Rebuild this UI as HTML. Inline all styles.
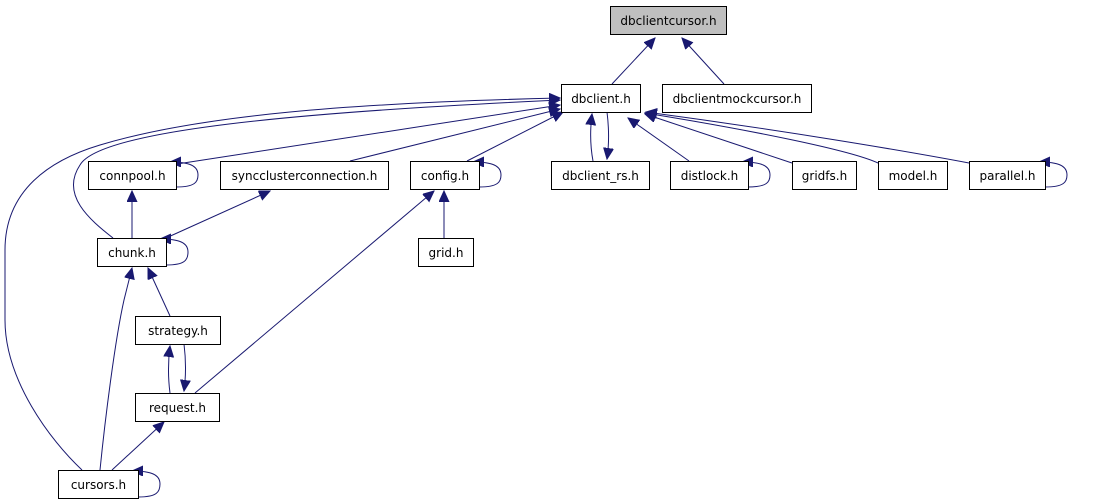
<!DOCTYPE html>
<html><head><meta charset="utf-8"><style>
html,body{margin:0;padding:0;background:#fff;}
svg{display:block;}
text{font-family:"DejaVu Sans","Liberation Sans",sans-serif;font-size:12px;fill:#000;}
.n{fill:#fff;stroke:#000;stroke-width:1;}
.e{fill:none;stroke:#191970;stroke-width:1;}
</style></head><body>
<svg width="1101" height="504" viewBox="0 0 1101 504" xmlns="http://www.w3.org/2000/svg">
<defs>
<marker id="a" markerUnits="userSpaceOnUse" markerWidth="12" markerHeight="12" refX="11" refY="5" orient="auto">
<path d="M0,0 L11,5 L0,10 z" fill="#191970" stroke="#191970"/>
</marker>
</defs>
<g class="e">
<path d="M612,84 L655,38" marker-end="url(#a)"/>
<path d="M724,84 L682,38" marker-end="url(#a)"/>
<path d="M177,164 L560,105" marker-end="url(#a)"/>
<path d="M350,161 L560,109" marker-end="url(#a)"/>
<path d="M467,161 L563,112" marker-end="url(#a)"/>
<path d="M113,238 C90,220 60,195 80,165 C100,130 300,112 560,100" marker-end="url(#a)"/>
<path d="M82,470 C50,440 5,380 5,320 L5,250 C5,190 50,160 100,145 C200,115 350,103 560,98" marker-end="url(#a)"/>
<path d="M593,161 C590,145 590,130 592,114" marker-end="url(#a)"/>
<path d="M607,112 C609,128 609,145 607,159" marker-end="url(#a)"/>
<path d="M689,161 L628,118" marker-end="url(#a)"/>
<path d="M792,163 L645,114" marker-end="url(#a)"/>
<path d="M878,163 C850,150 750,130 645,113" marker-end="url(#a)"/>
<path d="M969,163 C900,150 780,130 646,112" marker-end="url(#a)"/>
<path d="M176,187 C195,187 198,182 198,175 C198,166 190,162 170,162" marker-end="url(#a)"/>
<path d="M479,187 C498,187 501,182 501,175 C501,166 493,162 473,162" marker-end="url(#a)"/>
<path d="M748,187 C767,187 770,182 770,175 C770,166 762,162 742,162" marker-end="url(#a)"/>
<path d="M1045,187 C1064,187 1067,182 1067,175 C1067,166 1059,162 1039,162" marker-end="url(#a)"/>
<path d="M166,265 C185,265 188,260 188,252 C188,243 180,239 160,239" marker-end="url(#a)"/>
<path d="M138,497 C157,497 160,492 160,484 C160,475 152,471 132,471" marker-end="url(#a)"/>
<path d="M132,238 L132,191" marker-end="url(#a)"/>
<path d="M166,238 L270,191" marker-end="url(#a)"/>
<path d="M444,238 L444,191" marker-end="url(#a)"/>
<path d="M195,393 L434,191" marker-end="url(#a)"/>
<path d="M170,316 L148,268" marker-end="url(#a)"/>
<path d="M100,470 C105,420 115,340 124,300 L132,268" marker-end="url(#a)"/>
<path d="M184,344 C186,360 186,376 184,391" marker-end="url(#a)"/>
<path d="M170,393 C168,378 168,362 170,346" marker-end="url(#a)"/>
<path d="M112,470 L164,422" marker-end="url(#a)"/>
</g>
<rect x="610.5" y="6.5" width="116" height="28" fill="#bfbfbf" stroke="#000"/>
<text x="668.5" y="25" text-anchor="middle">dbclientcursor.h</text>
<g>
<rect class="n" x="561.5" y="84.5" width="79" height="28"/><text x="601" y="103" text-anchor="middle">dbclient.h</text>
<rect class="n" x="662.5" y="84.5" width="149" height="28"/><text x="737" y="103" text-anchor="middle">dbclientmockcursor.h</text>
<rect class="n" x="88.5" y="161.5" width="88" height="28"/><text x="132.5" y="180" text-anchor="middle">connpool.h</text>
<rect class="n" x="220.5" y="161.5" width="168" height="28"/><text x="304.5" y="180" text-anchor="middle">syncclusterconnection.h</text>
<rect class="n" x="410.5" y="161.5" width="69" height="28"/><text x="445" y="180" text-anchor="middle">config.h</text>
<rect class="n" x="551.5" y="161.5" width="98" height="28"/><text x="600.5" y="180" text-anchor="middle">dbclient_rs.h</text>
<rect class="n" x="670.5" y="161.5" width="78" height="28"/><text x="709.5" y="180" text-anchor="middle">distlock.h</text>
<rect class="n" x="792.5" y="161.5" width="64" height="28"/><text x="824.5" y="180" text-anchor="middle">gridfs.h</text>
<rect class="n" x="878.5" y="161.5" width="69" height="28"/><text x="913" y="180" text-anchor="middle">model.h</text>
<rect class="n" x="969.5" y="161.5" width="76" height="28"/><text x="1007.5" y="180" text-anchor="middle">parallel.h</text>
<rect class="n" x="97.5" y="238.5" width="69" height="28"/><text x="132" y="257" text-anchor="middle">chunk.h</text>
<rect class="n" x="418.5" y="238.5" width="55" height="28"/><text x="446" y="257" text-anchor="middle">grid.h</text>
<rect class="n" x="135.5" y="316.5" width="85" height="28"/><text x="178" y="335" text-anchor="middle">strategy.h</text>
<rect class="n" x="135.5" y="393.5" width="84" height="28"/><text x="177.5" y="412" text-anchor="middle">request.h</text>
<rect class="n" x="58.5" y="470.5" width="80" height="28"/><text x="98.5" y="489" text-anchor="middle">cursors.h</text>
</g>
</svg>
</body></html>
